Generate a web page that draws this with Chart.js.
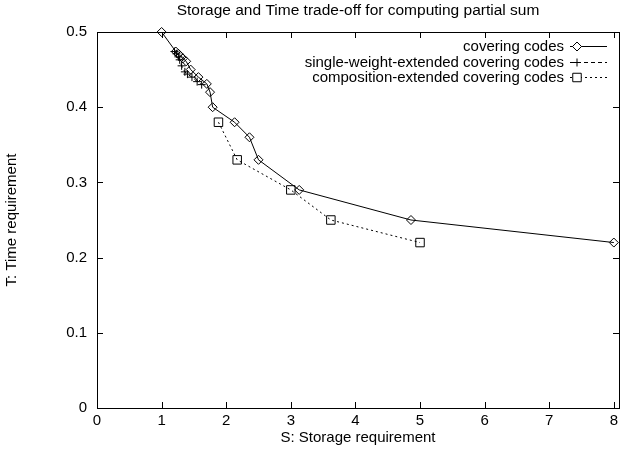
<!DOCTYPE html>
<html>
<head>
<meta charset="utf-8">
<script src="https://cdn.jsdelivr.net/npm/chart.js@4.4.1/dist/chart.umd.min.js"></script>
<style>
  html, body { margin: 0; padding: 0; background: #fff; }
  canvas { display: block; }
</style>
</head>
<body>
<canvas id="chart" width="629" height="452"></canvas>
<script>
const chartTitle = "Storage and Time trade-off for computing partial sum";
const seriesNames = [
  "covering codes",
  "single-weight-extended covering codes",
  "composition-extended covering codes",
];

// covering codes
const coveringS = [1.0, 1.22, 1.26, 1.29, 1.33, 1.38, 1.45, 1.57, 1.70, 1.75, 1.79, 2.13, 2.36, 2.50, 3.13, 4.86, 8.0];
const coveringT = [0.5, 0.474, 0.471, 0.468, 0.465, 0.461, 0.450, 0.440, 0.431, 0.420, 0.400, 0.380, 0.360, 0.330, 0.290, 0.250, 0.220];

// single-weight-extended covering codes
const singleS = [1.20, 1.23, 1.26, 1.28, 1.31, 1.36, 1.40, 1.47, 1.55, 1.62];
const singleT = [0.474, 0.471, 0.467, 0.463, 0.455, 0.447, 0.444, 0.440, 0.434, 0.430];

// composition-extended covering codes
const compS = [1.88, 2.17, 3.0, 3.62, 5.0];
const compT = [0.380, 0.330, 0.290, 0.250, 0.220];

const xTicks = [0, 1, 2, 3, 4, 5, 6, 7, 8];
const yTicks = [0, 0.1, 0.2, 0.3, 0.4, 0.5];

const fontFamily = "'Liberation Sans', Arial, Helvetica, sans-serif";
const font = { family: fontFamily, size: 15 };

function toPoints(xs, ys) {
  return xs.map((x, i) => ({ x: x, y: ys[i] }));
}

// frame, inward ticks, title and gnuplot style key
const gnuplotLook = {
  id: "gnuplotLook",
  afterDraw(chart) {
    const ctx = chart.ctx;
    const a = chart.chartArea;
    const xs = chart.scales.x;
    const ys = chart.scales.y;
    const tick = 6;
    ctx.save();
    ctx.strokeStyle = "#000";
    ctx.lineWidth = 1;
    ctx.setLineDash([]);
    ctx.strokeRect(Math.round(a.left) + 0.5, Math.round(a.top) + 0.5,
      Math.round(a.right - a.left), Math.round(a.bottom - a.top));

    ctx.beginPath();
    xs.ticks.forEach((t) => {
      const px = Math.round(xs.getPixelForValue(t.value)) + 0.5;
      ctx.moveTo(px, a.bottom);
      ctx.lineTo(px, a.bottom - tick);
      ctx.moveTo(px, a.top);
      ctx.lineTo(px, a.top + tick);
    });
    ys.ticks.forEach((t) => {
      const py = Math.round(ys.getPixelForValue(t.value)) + 0.5;
      ctx.moveTo(a.left, py);
      ctx.lineTo(a.left + tick, py);
      ctx.moveTo(a.right, py);
      ctx.lineTo(a.right - tick, py);
    });
    ctx.stroke();

    ctx.fillStyle = "#000";
    ctx.font = "15.5px " + fontFamily;
    ctx.textAlign = "center";
    ctx.textBaseline = "middle";
    ctx.fillText(chartTitle, (a.left + a.right) / 2, 11);

    // key
    ctx.font = "15px " + fontFamily;
    chart.data.datasets.forEach((ds, i) => {
      const y = Math.round(a.top + 14 + i * 15.5) + 0.5;
      ctx.fillStyle = "#000";
      ctx.textAlign = "right";
      ctx.fillText(ds.label, a.right - 55, y);
      ctx.beginPath();
      ctx.setLineDash(ds.borderDash || []);
      ctx.moveTo(a.right - 49, y);
      ctx.lineTo(a.right - 12, y);
      ctx.stroke();
      ctx.setLineDash([]);
      ctx.fillStyle = "#fff";
      Chart.helpers.drawPoint(ctx, {
        pointStyle: ds.pointStyle,
        radius: ds.pointRadius,
        borderWidth: 1,
        rotation: 0,
      }, a.right - 42, y);
    });
    ctx.restore();
  },
};

const lineBase = {
  showLine: true,
  clip: false,
  borderColor: "#000",
  borderWidth: 1,
  pointBorderColor: "#000",
  pointBackgroundColor: "rgba(0,0,0,0)",
  pointBorderWidth: 1,
  tension: 0,
};

const canvas = document.getElementById("chart");

new Chart(canvas, {
  type: "scatter",
  data: {
    datasets: [
      Object.assign({}, lineBase, {
        label: seriesNames[0],
        data: toPoints(coveringS, coveringT),
        pointStyle: "rectRot",
        pointRadius: 4.5,
      }),
      Object.assign({}, lineBase, {
        label: seriesNames[1],
        data: toPoints(singleS, singleT),
        pointStyle: "cross",
        pointRadius: 4,
        borderDash: [4, 3],
      }),
      Object.assign({}, lineBase, {
        label: seriesNames[2],
        data: toPoints(compS, compT),
        pointStyle: "rect",
        pointRadius: 6,
        borderDash: [2, 3],
      }),
    ],
  },
  options: {
    responsive: false,
    animation: false,
    layout: { padding: { top: 32, right: 10, left: 0, bottom: 0 } },
    plugins: {
      legend: { display: false },
      title: { display: false },
      tooltip: { enabled: false },
    },
    scales: {
      x: {
        type: "linear",
        min: 0,
        max: 8.08,
        grid: { display: false, drawTicks: false },
        border: { display: false },
        ticks: { color: "#000", font: font, padding: 4, maxRotation: 0 },
        afterBuildTicks: (s) => { s.ticks = xTicks.map((v) => ({ value: v })); },
        afterFit: (s) => { s.height = 44; },
        title: {
          display: true,
          text: "S: Storage requirement",
          color: "#000",
          font: font,
          padding: { top: 0, bottom: 5 },
        },
      },
      y: {
        type: "linear",
        min: 0,
        max: 0.5,
        grid: { display: false, drawTicks: false },
        border: { display: false },
        ticks: { color: "#000", font: font, padding: 10 },
        afterBuildTicks: (s) => { s.ticks = yTicks.map((v) => ({ value: v })); },
        afterFit: (s) => { s.width = 97; },
        title: {
          display: true,
          text: "T: Time requirement",
          color: "#000",
          font: font,
          padding: { top: 3, bottom: 0 },
        },
      },
    },
  },
  plugins: [gnuplotLook],
});
</script>
</body>
</html>
